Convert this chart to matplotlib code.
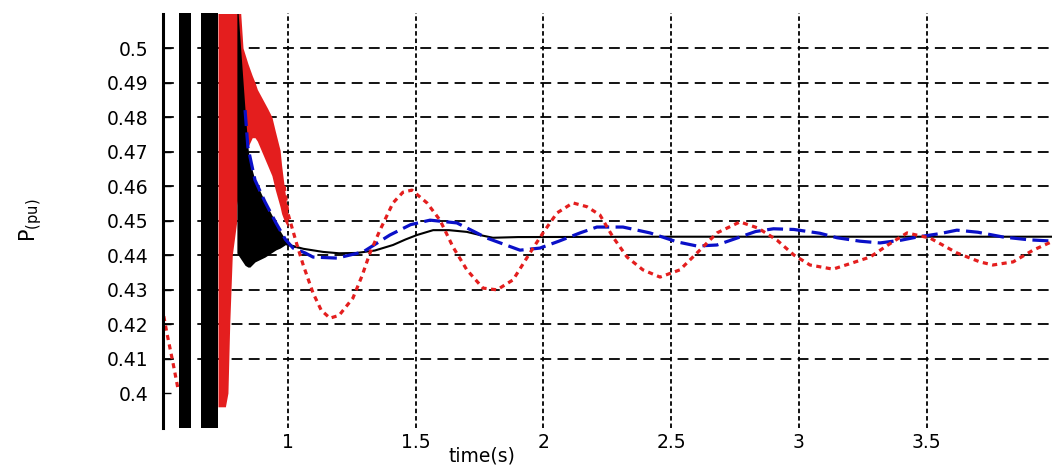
import matplotlib
matplotlib.use("Agg")
import matplotlib.pyplot as plt

# --- y ticks / x ticks ---
y_ticks = [0.40, 0.41, 0.42, 0.43, 0.44, 0.45, 0.46, 0.47, 0.48, 0.49, 0.50]
y_tick_labels = ["0.4", "0.41", "0.42", "0.43", "0.44", "0.45", "0.46", "0.47", "0.48", "0.49", "0.5"]
x_ticks = [1.0, 1.5, 2.0, 2.5, 3.0, 3.5]
x_tick_labels = ["1", "1.5", "2", "2.5", "3", "3.5"]

# --- black trace: fast switching intervals (oscillation fills whole range) ---
black_burst_t0 = [0.573, 0.660]
black_burst_t1 = [0.620, 0.726]

# black fast-oscillation envelope after the bursts
black_env_t = [0.800, 0.805, 0.832, 0.843, 0.851, 0.871, 0.910, 0.953, 0.969, 0.990, 1.020, 1.050]
black_env_hi = [0.510, 0.510, 0.482, 0.4713, 0.467, 0.4617, 0.4554, 0.4493, 0.447, 0.4445, 0.4425, 0.4420]
black_env_lo = [0.4406, 0.4400, 0.4370, 0.4365, 0.4365, 0.4380, 0.4394, 0.4415, 0.4420, 0.4430, 0.4422, 0.4420]

# black settled response
black_t = [1.00, 1.06, 1.137, 1.20, 1.27, 1.34, 1.411, 1.46, 1.505, 1.568, 1.63, 1.70, 1.75,
           1.802, 1.90, 2.50, 3.00, 3.50, 4.00]
black_p = [0.4430, 0.4418, 0.4409, 0.4405, 0.4406, 0.4413, 0.4429, 0.4445, 0.4458, 0.4472,
           0.4472, 0.4467, 0.4458, 0.4450, 0.4452, 0.4453, 0.4453, 0.4453, 0.4453]

# --- blue trace ---
blue_t = [0.832, 0.843, 0.871, 0.910, 0.953, 0.990, 1.020, 1.067, 1.098, 1.192, 1.294, 1.399,
          1.48, 1.556, 1.661, 1.779, 1.908, 1.986, 2.06, 2.143, 2.209, 2.311, 2.417, 2.523,
          2.601, 2.679, 2.757, 2.83, 2.90, 2.98, 3.082, 3.149, 3.239, 3.317, 3.40, 3.462,
          3.552, 3.618, 3.70, 3.80, 3.90, 4.00]
blue_p = [0.482, 0.4713, 0.4617, 0.4554, 0.4493, 0.4445, 0.4420, 0.4406, 0.4394, 0.4391,
          0.4409, 0.4458, 0.4488, 0.4501, 0.4493, 0.4449, 0.4414, 0.4420, 0.4440, 0.4464,
          0.4481, 0.4481, 0.4464, 0.4438, 0.4426, 0.4429, 0.4449, 0.4468, 0.4476, 0.4474,
          0.4463, 0.4450, 0.4440, 0.4435, 0.4443, 0.4452, 0.4462, 0.4472, 0.4466, 0.4452,
          0.4444, 0.4440]

# --- red trace ---
red_start_t = [0.507, 0.526, 0.550, 0.569]
red_start_p = [0.4250, 0.4174, 0.4087, 0.4014]

# red full-range oscillation strip (right edge varies with level)
red_strip_left = 0.726
red_strip_y = [0.396, 0.400, 0.420, 0.440, 0.450, 0.470, 0.510]
red_strip_right = [0.755, 0.765, 0.772, 0.782, 0.800, 0.800, 0.800]

# red fast-oscillation envelope
red_env_t = [0.785, 0.815, 0.824, 0.843, 0.860, 0.871, 0.880, 0.920, 0.937, 0.950, 0.969, 0.975, 0.985, 1.000]
red_env_hi = [0.510, 0.510, 0.500, 0.4955, 0.492, 0.490, 0.488, 0.4825, 0.480, 0.476, 0.4704, 0.466, 0.460, 0.452]
red_env_lo = [0.450, 0.460, 0.465, 0.4713, 0.4740, 0.4740, 0.4730, 0.4660, 0.4630, 0.4590, 0.4540, 0.4520, 0.4500, 0.4480]

red_t = [0.985, 1.000, 1.035, 1.060, 1.098, 1.130, 1.164, 1.200, 1.254, 1.290, 1.321, 1.360,
         1.411, 1.450, 1.485, 1.544, 1.595, 1.646, 1.700, 1.763, 1.818, 1.881, 1.947, 1.998,
         2.053, 2.115, 2.170, 2.221, 2.272, 2.327, 2.389, 2.456, 2.534, 2.601, 2.679, 2.769,
         2.840, 2.914, 2.980, 3.043, 3.133, 3.200, 3.278, 3.350, 3.423, 3.513, 3.618, 3.708,
         3.759, 3.838, 3.916, 4.000]
red_p = [0.4600, 0.4520, 0.4430, 0.4370, 0.4290, 0.4240, 0.4217, 0.4225, 0.4275, 0.4340,
         0.4406, 0.4472, 0.4551, 0.4582, 0.4588, 0.4551, 0.4501, 0.4423, 0.4357, 0.4304,
         0.4299, 0.4328, 0.4406, 0.4464, 0.4522, 0.4551, 0.4540, 0.4516, 0.4452, 0.4394,
         0.4357, 0.4336, 0.4357, 0.4406, 0.4464, 0.4496, 0.4478, 0.4443, 0.4400, 0.4371,
         0.4359, 0.4375, 0.4394, 0.4430, 0.4464, 0.4449, 0.4406, 0.4380, 0.4371, 0.4380,
         0.4414, 0.4442]

RED = "#e41e1e"
BLUE = "#0a10c8"

plt.rcParams["font.family"] = ["DejaVu Sans"]

fig = plt.figure(figsize=(10.52, 4.73), dpi=100)
W, H = 1052.0, 473.0
ax = fig.add_axes([163.3 / W, (H - 427.5) / H, 891.2 / W, 414.0 / H])
ax.set_xlim(0.512, 4.0)
ax.set_ylim(0.39, 0.51)

# fast-oscillation regions
ax.fill_betweenx(red_strip_y, red_strip_left, red_strip_right, color=RED, lw=0, zorder=1.5)
ax.fill_between(red_env_t, red_env_lo, red_env_hi, color=RED, lw=0, zorder=1.5)
for t0, t1 in zip(black_burst_t0, black_burst_t1):
    ax.axvspan(t0, t1, color="black", lw=0, zorder=2)
ax.fill_between(black_env_t, black_env_lo, black_env_hi, color="black", lw=0, zorder=2)

# traces
ax.plot(black_t, black_p, color="black", lw=1.5, zorder=2.2)
ax.plot(blue_t, blue_p, color=BLUE, lw=2.3, linestyle=(0, (5, 2)), zorder=3)
ax.plot(red_start_t, red_start_p, color=RED, lw=2.3, linestyle=(0, (1.6, 1.4)),
        dash_capstyle="butt", zorder=4)
ax.plot(red_t, red_p, color=RED, lw=2.3, linestyle=(0, (1.6, 1.4)),
        dash_capstyle="butt", zorder=4)

# axes styling
for side in ("top", "right", "bottom"):
    ax.spines[side].set_visible(False)
ax.spines["left"].set_linewidth(2.2)
ax.spines["left"].set_zorder(5)

ax.set_yticks(y_ticks)
ax.set_yticklabels(y_tick_labels)
ax.set_xticks(x_ticks)
ax.set_xticklabels(x_tick_labels)
ax.tick_params(axis="y", direction="in", length=6, width=1.0, pad=11, labelsize=13.5)
ax.tick_params(axis="x", length=0, pad=4, labelsize=13.5)

ax.set_axisbelow(True)
ax.yaxis.grid(True, color="black", lw=1.3, linestyle=(0, (6, 3.5)))
ax.xaxis.grid(True, color="black", lw=1.3, linestyle=(0, (2.5, 1.6)))
ax.get_ygridlines()[0].set_visible(False)

ax.set_xlabel("time(s)", fontsize=13.5, labelpad=2)
ax.xaxis.set_label_coords((482 - 163.3) / 891.2, -0.045, transform=ax.transAxes)
ax.xaxis.label.set_va("top")
ax.set_ylabel(r"P$_{\rm (pu)}$", fontsize=15)
ax.yaxis.set_label_coords(-(163.3 - 44) / 891.2, 0.5)

fig.savefig("out.png", dpi=100)
